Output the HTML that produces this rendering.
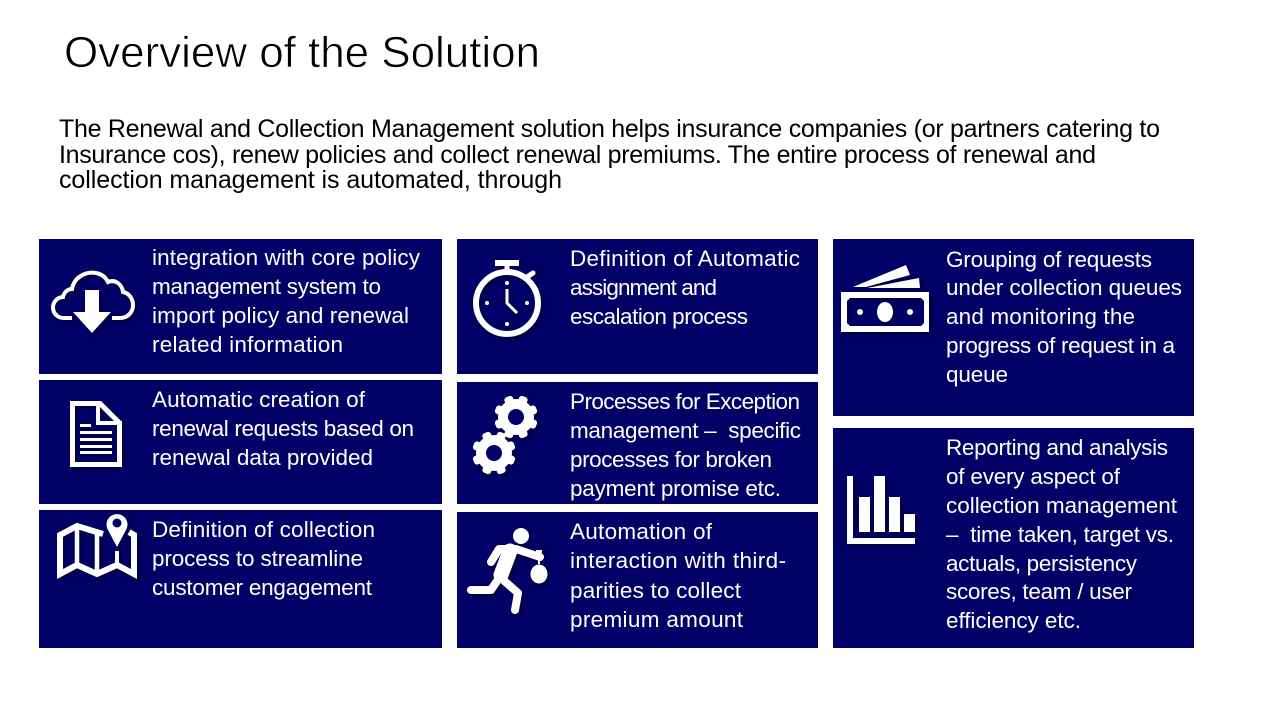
<!DOCTYPE html>
<html lang="en"><head><meta charset="utf-8"><title>Overview of the Solution</title>
<style>
html,body{margin:0;padding:0;background:#fff;width:1280px;height:720px;overflow:hidden}
svg{display:block}
text{font-family:"Liberation Sans",sans-serif;white-space:pre}
.t{font-size:22.500px;fill:#fff}
.b{font-size:25px;fill:#000}
.ic{filter:drop-shadow(2px 2px 2px rgba(0,0,0,.45))}
</style></head><body>
<svg width="1280" height="720" viewBox="0 0 1280 720" xmlns="http://www.w3.org/2000/svg">
<rect width="1280" height="720" fill="#fff"/>
<text x="64" y="67" font-size="44" fill="#000" stroke="#fff" stroke-width="0.7" textLength="476" lengthAdjust="spacing">Overview of the Solution</text>
<text class="b" x="59" y="137" textLength="1101" lengthAdjust="spacing">The Renewal and Collection Management solution helps insurance companies (or partners catering to</text>
<text class="b" x="59" y="163" textLength="1037" lengthAdjust="spacing">Insurance cos), renew policies and collect renewal premiums. The entire process of renewal and</text>
<text class="b" x="59" y="188" textLength="503" lengthAdjust="spacing">collection management is automated, through</text>

<g fill="#000066">
<rect x="39" y="239" width="403" height="135"/>
<rect x="39" y="380" width="403" height="124"/>
<rect x="39" y="510" width="403" height="138"/>
<rect x="457" y="239" width="361" height="135"/>
<rect x="457" y="382" width="361" height="122"/>
<rect x="457" y="512" width="361" height="136"/>
<rect x="833" y="239" width="361" height="177"/>
<rect x="833" y="428" width="361" height="220"/>
</g>

<text class="t" x="152" y="265" textLength="268" lengthAdjust="spacing">integration with core policy</text>
<text class="t" x="152" y="294" textLength="229" lengthAdjust="spacing">management system to</text>
<text class="t" x="152" y="323" textLength="257" lengthAdjust="spacing">import policy and renewal</text>
<text class="t" x="152" y="352" textLength="191" lengthAdjust="spacing">related information</text>
<text class="t" x="152" y="407" textLength="213" lengthAdjust="spacing">Automatic creation of</text>
<text class="t" x="152" y="436" textLength="262" lengthAdjust="spacing">renewal requests based on</text>
<text class="t" x="152" y="465" textLength="221" lengthAdjust="spacing">renewal data provided</text>
<text class="t" x="152" y="537" textLength="223" lengthAdjust="spacing">Definition of collection</text>
<text class="t" x="152" y="566" textLength="211" lengthAdjust="spacing">process to streamline</text>
<text class="t" x="152" y="595" textLength="220" lengthAdjust="spacing">customer engagement</text>

<text class="t" x="570" y="266" textLength="230" lengthAdjust="spacing">Definition of Automatic</text>
<text class="t" x="570" y="295" textLength="147" lengthAdjust="spacing">assignment and</text>
<text class="t" x="570" y="324" textLength="178" lengthAdjust="spacing">escalation process</text>
<text class="t" x="570" y="409" textLength="230" lengthAdjust="spacing">Processes for Exception</text>
<text class="t" x="570" y="438" textLength="231" lengthAdjust="spacing">management –  specific</text>
<text class="t" x="570" y="467" textLength="202" lengthAdjust="spacing">processes for broken</text>
<text class="t" x="570" y="496" textLength="211" lengthAdjust="spacing">payment promise etc.</text>
<text class="t" x="570" y="539" textLength="142" lengthAdjust="spacing">Automation of</text>
<text class="t" x="570" y="568" textLength="216" lengthAdjust="spacing">interaction with third-</text>
<text class="t" x="570" y="598" textLength="171" lengthAdjust="spacing">parities to collect</text>
<text class="t" x="570" y="627" textLength="173" lengthAdjust="spacing">premium amount</text>

<text class="t" x="946" y="267" textLength="206" lengthAdjust="spacing">Grouping of requests</text>
<text class="t" x="946" y="295" textLength="236" lengthAdjust="spacing">under collection queues</text>
<text class="t" x="946" y="324" textLength="189" lengthAdjust="spacing">and monitoring the</text>
<text class="t" x="946" y="353" textLength="229" lengthAdjust="spacing">progress of request in a</text>
<text class="t" x="946" y="382" textLength="62" lengthAdjust="spacing">queue</text>
<text class="t" x="946" y="455" textLength="222" lengthAdjust="spacing">Reporting and analysis</text>
<text class="t" x="946" y="484" textLength="174" lengthAdjust="spacing">of every aspect of</text>
<text class="t" x="946" y="513" textLength="231" lengthAdjust="spacing">collection management</text>
<text class="t" x="946" y="542" textLength="228" lengthAdjust="spacing">–  time taken, target vs.</text>
<text class="t" x="946" y="571" textLength="191" lengthAdjust="spacing">actuals, persistency</text>
<text class="t" x="946" y="599" textLength="186" lengthAdjust="spacing">scores, team / user</text>
<text class="t" x="946" y="628" textLength="135" lengthAdjust="spacing">efficiency etc.</text>

<!-- cloud -->
<g class="ic">
<path d="M72 318H64A10.500 10.500 0 0 1 63 297C64 292 68 289 72 289C74 277 86 271 96 273C102 274 106 278 108 282C115 279 122 284 123 292C129 293 133 299 133 305C133 313 127 318 120 318H112" fill="none" stroke="#fff" stroke-width="4"/>
<path d="M85 290H99V312H111L92 333L73 312H85Z" fill="#fff"/>
</g>
<!-- document -->
<g class="ic">
<path d="M72.500 403.500H100L119.500 423V464.500H72.500Z" fill="none" stroke="#fff" stroke-width="5"/>
<path d="M98 401V423H122" fill="none" stroke="#fff" stroke-width="4"/>
<path d="M80 424h11v3h-11zM80 431h32v3h-32zM80 438h32v3h-32zM80 445h32v3h-32zM80 451h32v3h-32z" fill="#fff"/>
</g>
<!-- map -->
<g class="ic">
<path d="M103 534L77 526L60 535V574L77 565L97 574L117 565L134 574V535L129 532" fill="none" stroke="#fff" stroke-width="6"/>
<path d="M77 525V566M97 533V575" fill="none" stroke="#fff" stroke-width="4.500"/>
<path d="M117 551V566" fill="none" stroke="#fff" stroke-width="4"/>
<path d="M117 547L108 530A10.500 10.500 0 1 1 126 530Z" fill="#fff"/>
<circle cx="117" cy="523" r="4.500" fill="#000066"/>
</g>

<!-- stopwatch -->
<g class="ic" fill="none" stroke="#fff">
<circle cx="507" cy="303" r="31" stroke-width="6"/>
<path d="M495 263H519" stroke-width="6"/>
<path d="M507 266V272" stroke-width="5"/>
<path d="M527 277L533 273" stroke-width="5" stroke-linecap="round"/>
<path d="M507 289V303L517 313" stroke-width="3"/>
<g fill="#fff" stroke="none">
<circle cx="507" cy="283" r="2"/><circle cx="507" cy="324" r="2"/><circle cx="487" cy="303" r="2"/><circle cx="527" cy="303" r="2"/>
</g>
</g>
<!-- gears -->
<g class="ic">
<g transform="translate(516,417) rotate(22.500)" fill="#fff">
<circle r="18"/>
<rect x="-4.500" y="-22" width="9" height="44" rx="3"/>
<rect x="-4.500" y="-22" width="9" height="44" rx="3" transform="rotate(45)"/>
<rect x="-4.500" y="-22" width="9" height="44" rx="3" transform="rotate(90)"/>
<rect x="-4.500" y="-22" width="9" height="44" rx="3" transform="rotate(135)"/>
<circle r="8" fill="#000066"/>
</g>
<g transform="translate(494,453) rotate(22.500)" fill="#fff">
<circle r="18"/>
<rect x="-4.500" y="-22" width="9" height="44" rx="3"/>
<rect x="-4.500" y="-22" width="9" height="44" rx="3" transform="rotate(45)"/>
<rect x="-4.500" y="-22" width="9" height="44" rx="3" transform="rotate(90)"/>
<rect x="-4.500" y="-22" width="9" height="44" rx="3" transform="rotate(135)"/>
<circle r="8" fill="#000066"/>
</g>
</g>
<!-- runner -->
<g class="ic">
<circle cx="521" cy="536" r="8" fill="#fff"/>
<g fill="none" stroke="#fff" stroke-linecap="round" stroke-linejoin="round">
<path d="M510 551L501 575" stroke-width="15"/>
<path d="M491 562L499 549H516L540 557" stroke-width="8"/>
<path d="M499 578L491 590H471" stroke-width="8"/>
<path d="M501 578L518 593L515 610" stroke-width="8"/>
</g>
<ellipse cx="539" cy="574" rx="8.500" ry="9.500" fill="#fff"/>
<path d="M536 550h6v3h-6z" fill="#fff"/>
<path d="M539 559v5" stroke="#fff" stroke-width="2"/>
</g>

<!-- money -->
<g class="ic">
<path fill-rule="evenodd" d="M841 292H929V332H841ZM850 298L847 301V323L850 326H921L924 323V301L921 298Z" fill="#fff"/>
<ellipse cx="885" cy="312" rx="8" ry="10" fill="#fff"/>
<circle cx="860" cy="312" r="3" fill="#fff"/><circle cx="910" cy="312" r="3" fill="#fff"/>
<path d="M853 287L906 265L910 275L866 287Z" fill="#fff"/>
<path d="M867 288L919 278L920 288Z" fill="#fff"/>
</g>
<!-- chart -->
<g class="ic" fill="#fff">
<path d="M847 476H853V538H915V544H847Z"/>
<rect x="859" y="497" width="11" height="35"/>
<rect x="874" y="476" width="11" height="56"/>
<rect x="889" y="497" width="11" height="35"/>
<rect x="904" y="514" width="11" height="18"/>
</g>
</svg>
</body></html>
